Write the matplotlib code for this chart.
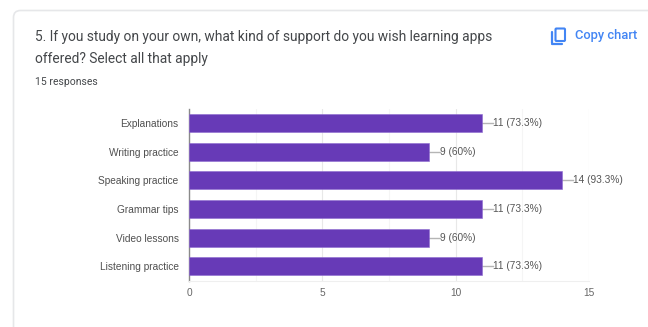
"""Horizontal bar chart of survey responses inside a form-summary card."""
import matplotlib
matplotlib.use("Agg")
import matplotlib.pyplot as plt
from matplotlib.patches import FancyBboxPatch

categories = ["Explanations", "Writing practice", "Speaking practice",
              "Grammar tips", "Video lessons", "Listening practice"]
counts = [11, 9, 14, 11, 9, 11]
percents = ["73.3%", "60%", "93.3%", "73.3%", "60%", "73.3%"]
xticks = [0, 5, 10, 15]
minor_xticks = [2.5, 7.5, 12.5]

W, H = 648, 327
PURPLE = "#673ab7"
BLUE = "#4285f4"

plt.rcParams["font.family"] = ["Liberation Sans", "DejaVu Sans"]


def main():
    fig = plt.figure(figsize=(W / 100, H / 100), dpi=100, facecolor="white")

    # page layer in pixel coordinates, y pointing down
    bg = fig.add_axes([0, 0, 1, 1])
    bg.set_xlim(0, W)
    bg.set_ylim(H, 0)
    bg.axis("off")
    bg.add_patch(FancyBboxPatch((13.5, 10.5), W + 40, H + 40,
                                boxstyle="round,pad=0,rounding_size=7",
                                fc="white", ec="#e6e7e9", lw=1.2))

    bg.text(35, 37.5, "5. If you study on your own, what kind of support do you wish learning apps",
            fontsize=9.95, family="Roboto", color="#44474a", va="center")
    bg.text(35, 58.5, "offered? Select all that apply",
            fontsize=9.95, family="Roboto", color="#44474a", va="center")
    bg.text(35, 82, "15 responses", fontsize=7.5, family="Roboto",
            color="#44474a", va="center")
    bg.text(575, 36, "Copy chart", fontsize=9.3, family="Roboto", color=BLUE,
            va="center", weight="medium")

    # copy icon, two offset rounded outlines
    bg.add_patch(FancyBboxPatch((555.5, 28.5), 9.5, 12.5,
                                boxstyle="round,pad=0,rounding_size=1",
                                fc="white", ec=BLUE, lw=1.5))
    bg.plot([551.5, 551.5], [32, 43], color=BLUE, lw=1.6, solid_capstyle="round")
    bg.plot([551.5, 561.5], [44.2, 44.2], color=BLUE, lw=1.6, solid_capstyle="round")

    ax = fig.add_axes([189 / W, 1 - 280.5 / H, (588.8 - 189) / W, (280.5 - 109) / H])
    ax.patch.set_alpha(0)
    y = list(range(len(categories)))
    ax.barh(y, counts, height=0.63, color=PURPLE, edgecolor="#8e6bd0", lw=0.4, zorder=3)

    for yi, c, p in zip(y, counts, percents):
        ax.plot([c, c + 0.4], [yi, yi], color="#b5b5b5", lw=1, zorder=2, clip_on=False)
        ax.text(c + 0.4, yi, f"{c} ({p})", fontsize=7.3, color="#555555",
                va="center", ha="left", zorder=4)

    ax.set_xlim(0, 15)
    ax.set_ylim(len(categories) - 0.5, -0.5)
    ax.set_yticks(y)
    ax.set_yticklabels(categories, fontsize=7.3, color="#505050")
    ax.set_xticks(xticks)
    ax.set_xticklabels([str(t) for t in xticks], fontsize=7.3, color="#666666")
    ax.set_xticks(minor_xticks, minor=True)
    ax.tick_params(axis="both", which="both", length=0)
    ax.tick_params(axis="x", pad=5.5)
    ax.tick_params(axis="y", pad=7.5)

    ax.grid(axis="x", which="major", color="#e8e8e8", lw=0.8, zorder=0)
    ax.grid(axis="x", which="minor", color="#f5f5f5", lw=0.8, zorder=0)

    for side in ("top", "right"):
        ax.spines[side].set_visible(False)
    ax.spines["bottom"].set_color("#efefef")
    ax.spines["left"].set_color("#8a8a8a")
    ax.spines["left"].set_linewidth(1.0)

    fig.savefig("out.png", dpi=100)


if __name__ == "__main__":
    main()
